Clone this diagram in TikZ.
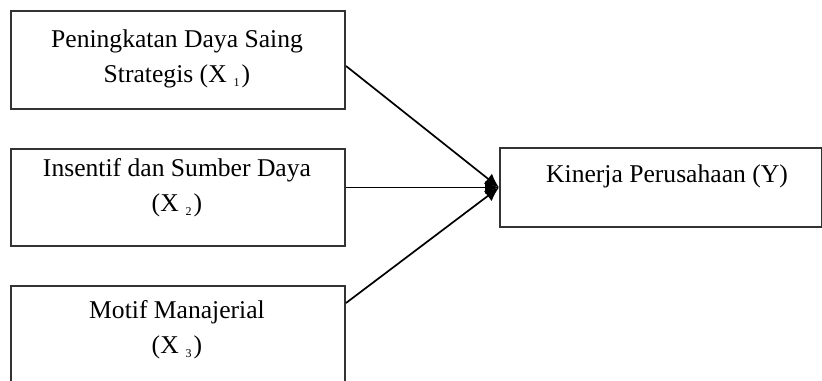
\documentclass[tikz,border=0pt]{standalone}
\usepackage{fontspec}
\setmainfont{Liberation Serif}
\usepackage{tikz}
\usetikzlibrary{arrows.meta}

\newcommand{\subidx}[1]{\hspace{3.5pt}\raisebox{-2pt}{\fontsize{6}{6}\selectfont #1}\hspace{1pt}}

\begin{document}
\begin{tikzpicture}[x=0.5pt,y=-0.5pt,
    box/.style={draw=black!80,line width=1pt,anchor=north west,inner sep=0pt},
    txt/.style={align=center,inner sep=0pt,font=\fontsize{12.8}{17.5}\selectfont},
    conn/.style={line width=0.85pt,-{Latex[length=7pt,width=6.5pt]}}]
    \useasboundingbox (0,0) rectangle (822,380);
    % variabel bebas
    \node[box,minimum width=167pt,minimum height=49pt] (x1) at (10,10) {};
    \node[box,minimum width=167pt,minimum height=48.5pt] (x2) at (10,148) {};
    \node[box,minimum width=167pt,minimum height=49pt] (x3) at (10,285) {};
    \node[txt,anchor=north] (x1t) at (177,29)
      {Peningkatan Daya Saing\\Strategis (X\subidx{1})};
    \node[txt,anchor=north] (x2t) at (177,158)
      {Insentif dan Sumber Daya\\(X\subidx{2})};
    \node[txt,anchor=north] (x3t) at (177,300)
      {Motif Manajerial\\(X\subidx{3})};
    % variabel terikat
    \node[box,minimum width=161pt,minimum height=39.5pt] (y) at (499,147) {};
    \node[txt,anchor=base] (yt) at (667,182) {Kinerja Perusahaan (Y)};
    % panah
    \draw[conn] ([yshift=-3pt]x1.east) -- (y.west);
    \draw[conn] (x2.east |- y.west) -- (y.west);
    \draw[conn] ([yshift=-9pt]x3.north east) -- (y.west);
\end{tikzpicture}
\end{document}
